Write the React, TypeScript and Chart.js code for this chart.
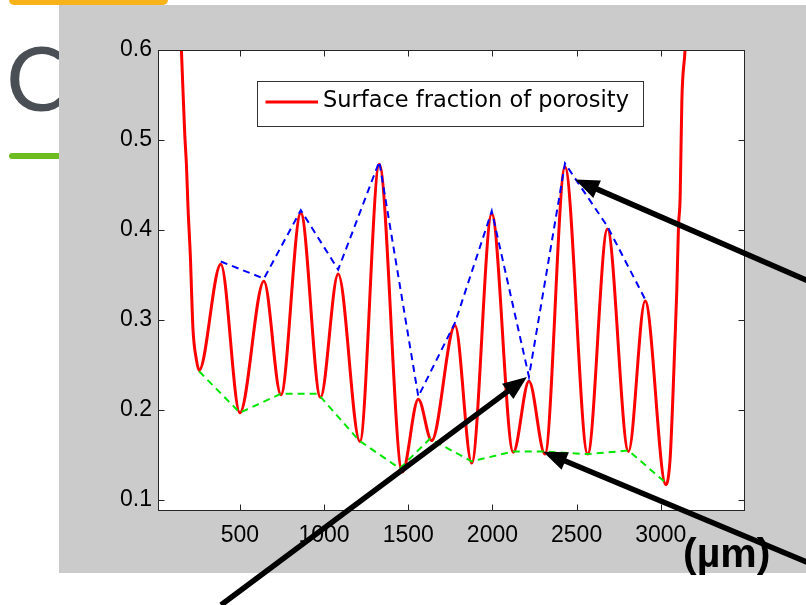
import React, { useEffect, useRef } from 'react';
import { Chart, registerables } from 'chart.js';

Chart.register(...registerables);

// ---- data ----
const curveX = [140, 153, 163, 173, 183, 192, 207, 213, 222, 242, 258, 387, 500, 643, 744, 862, 979, 1084, 1213, 1328, 1465, 1560, 1639, 1778, 1877, 1996, 2124, 2217, 2312, 2431, 2566, 2683, 2808, 2907, 3030, 3055, 3071, 3082, 3095, 3105, 3115, 3125, 3144, 3158];
const curveY = [0.66, 0.6, 0.552, 0.506, 0.472, 0.426, 0.367, 0.333, 0.289, 0.256, 0.244, 0.362, 0.197, 0.343, 0.217, 0.419, 0.214, 0.351, 0.165, 0.473, 0.131, 0.212, 0.166, 0.294, 0.141, 0.418, 0.153, 0.232, 0.151, 0.47, 0.151, 0.401, 0.154, 0.321, 0.117, 0.145, 0.211, 0.267, 0.333, 0.404, 0.437, 0.544, 0.6, 0.66];

const peakX = [387, 643, 862, 1084, 1328, 1560, 1778, 1996, 2217, 2431, 2683, 2907];
const peakY = [0.365, 0.346, 0.422, 0.356, 0.476, 0.215, 0.297, 0.421, 0.237, 0.474, 0.404, 0.323];

const troughX = [258, 500, 744, 964, 1209, 1450, 1628, 1877, 2124, 2302, 2566, 2808, 3030];
const troughY = [0.243, 0.197, 0.218, 0.218, 0.166, 0.135, 0.168, 0.143, 0.154, 0.154, 0.151, 0.155, 0.119];

const xTicks = [500, 1000, 1500, 2000, 2500, 3000];
const yTicks = [0.1, 0.2, 0.3, 0.4, 0.5, 0.6];

const arrowTipX = [2491, 2205, 2301];
const arrowTipY = [0.456, 0.2367, 0.1537];

const legendLabel = 'Surface fraction of porosity';
const unitLabel = '(µm)';
const slideLetter = 'C';

const toPoints = (xs: number[], ys: number[]) => xs.map((x, i) => ({ x, y: ys[i] }));

const backdropPlugin = {
  id: 'backdrop',
  beforeDraw(chart: any) {
    const { ctx, chartArea: a } = chart;
    ctx.save();
    ctx.fillStyle = '#ffffff';
    ctx.fillRect(0, 0, chart.width, chart.height);
    // slide decorations
    ctx.fillStyle = '#f8b31b';
    ctx.beginPath();
    ctx.roundRect(9, -6, 159, 11, 5);
    ctx.fill();
    ctx.fillStyle = '#6dbd22';
    ctx.beginPath();
    ctx.roundRect(9, 153, 80, 6, 3);
    ctx.fill();
    ctx.fillStyle = '#4a4f55';
    ctx.font = "400 90px Lato";
    ctx.textBaseline = 'alphabetic';
    ctx.textAlign = 'left';
    ctx.fillText(slideLetter, 6, 111);
    // grey panel
    ctx.fillStyle = '#cbcbcb';
    ctx.fillRect(59, 5, 747, 568);
    // axes background
    ctx.fillStyle = '#ffffff';
    ctx.fillRect(a.left, a.top, a.right - a.left, a.bottom - a.top);
    ctx.restore();
  },
};

const framePlugin = {
  id: 'frame',
  afterDatasetsDraw(chart: any) {
    const { ctx, chartArea: a, scales } = chart;
    ctx.save();
    ctx.strokeStyle = '#262626';
    ctx.lineWidth = 1;
    const L = Math.round(a.left) + 0.5, R = Math.round(a.right) - 0.5;
    const T = Math.round(a.top) + 0.5, B = Math.round(a.bottom) - 0.5;
    ctx.strokeRect(L, T, R - L, B - T);
    const len = 6;
    ctx.beginPath();
    xTicks.forEach((v) => {
      const px = Math.round(scales.x.getPixelForValue(v)) + 0.5;
      ctx.moveTo(px, B); ctx.lineTo(px, B - len);
      ctx.moveTo(px, T); ctx.lineTo(px, T + len);
    });
    yTicks.forEach((v) => {
      const py = Math.round(scales.y.getPixelForValue(v)) + 0.5;
      ctx.moveTo(L, py); ctx.lineTo(L + len, py);
      ctx.moveTo(R, py); ctx.lineTo(R - len, py);
    });
    ctx.stroke();

    // legend box
    const ds = chart.data.datasets[0];
    const bx = a.left + 98.5, by = a.top + 31, bw = 385.5, bh = 44.5;
    ctx.fillStyle = '#ffffff';
    ctx.fillRect(bx, by, bw, bh);
    ctx.strokeStyle = '#333333';
    ctx.strokeRect(Math.round(bx) + 0.5, Math.round(by) + 0.5, Math.round(bw), Math.round(bh));
    ctx.strokeStyle = ds.borderColor;
    ctx.lineWidth = 3;
    ctx.beginPath();
    ctx.moveTo(bx + 9, by + 21);
    ctx.lineTo(bx + 61.5, by + 21);
    ctx.stroke();
    ctx.fillStyle = '#000000';
    ctx.font = "22.5px 'DejaVu Sans'";
    ctx.textAlign = 'left';
    ctx.textBaseline = 'alphabetic';
    ctx.fillText(ds.label, bx + 66.5, by + 25.5);
    ctx.restore();
  },
};

const arrowsPlugin = {
  id: 'arrows',
  afterDraw(chart: any) {
    const { ctx, scales } = chart;
    ctx.save();
    ctx.fillStyle = '#000000';
    ctx.font = "bold 41px 'Liberation Sans'";
    ctx.textAlign = 'left';
    ctx.textBaseline = 'alphabetic';
    ctx.fillText(unitLabel, 683, 567);

    const tails = [[830, 290.5], [221, 605], [830, 571.7]];
    arrowTipX.forEach((tx, i) => {
      const px = scales.x.getPixelForValue(tx);
      const py = scales.y.getPixelForValue(arrowTipY[i]);
      const [sx, sy] = tails[i];
      const ang = Math.atan2(py - sy, px - sx);
      const head = 24, half = 9.5;
      const bxp = px - head * Math.cos(ang), byp = py - head * Math.sin(ang);
      ctx.strokeStyle = '#000000';
      ctx.lineWidth = 5.5;
      ctx.lineCap = 'butt';
      ctx.beginPath();
      ctx.moveTo(sx, sy);
      ctx.lineTo(bxp + 2 * Math.cos(ang), byp + 2 * Math.sin(ang));
      ctx.stroke();
      ctx.beginPath();
      ctx.moveTo(px, py);
      ctx.lineTo(bxp + half * Math.sin(ang), byp - half * Math.cos(ang));
      ctx.lineTo(bxp - half * Math.sin(ang), byp + half * Math.cos(ang));
      ctx.closePath();
      ctx.fill();
    });
    ctx.restore();
  },
};

export default function App() {
  const ref = useRef<HTMLCanvasElement>(null);
  useEffect(() => {
    if (!ref.current) return;
    const tickFont = { family: "'Liberation Sans', Arial, sans-serif", size: 23 };
    const chart = new Chart(ref.current, {
      type: 'line',
      data: {
        datasets: [
          {
            label: legendLabel,
            data: toPoints(curveX, curveY),
            borderColor: '#ff0000',
            borderWidth: 3,
            pointRadius: 0,
            cubicInterpolationMode: 'monotone',
            fill: false,
            clip: 0,
            order: 3,
          },
          {
            label: 'peaks',
            data: toPoints(peakX, peakY),
            borderColor: '#0000ff',
            borderWidth: 2,
            borderDash: [7, 5],
            pointRadius: 0,
            tension: 0,
            fill: false,
            clip: 0,
            order: 1,
          },
          {
            label: 'troughs',
            data: toPoints(troughX, troughY),
            borderColor: '#00e600',
            borderWidth: 2,
            borderDash: [7, 5],
            pointRadius: 0,
            tension: 0,
            fill: false,
            clip: 0,
            order: 1,
          },
        ],
      },
      options: {
        animation: false,
        responsive: false,
        devicePixelRatio: 1,
        layout: { padding: { top: 50, right: 61, left: 0, bottom: 0 } },
        plugins: { legend: { display: false }, tooltip: { enabled: false } },
        scales: {
          x: {
            type: 'linear',
            min: 14,
            max: 3500,
            afterBuildTicks: (s: any) => { s.ticks = xTicks.map((v) => ({ value: v })); },
            afterFit: (s: any) => { s.height = 94; },
            grid: { display: false, drawTicks: false },
            border: { display: false },
            ticks: {
              font: tickFont,
              color: '#000000',
              padding: 11,
              maxRotation: 0,
              autoSkip: false,
              callback: (v: any) => String(v),
            },
          },
          y: {
            type: 'linear',
            min: 0.0878,
            max: 0.6,
            afterBuildTicks: (s: any) => { s.ticks = yTicks.map((v) => ({ value: v })); },
            afterFit: (s: any) => { s.width = 158; },
            grid: { display: false, drawTicks: false },
            border: { display: false },
            ticks: {
              font: tickFont,
              color: '#000000',
              padding: 6,
              autoSkip: false,
              callback: (v: any) => Number(v).toFixed(1),
            },
          },
        },
      },
      plugins: [backdropPlugin, framePlugin, arrowsPlugin],
    } as any);
    return () => chart.destroy();
  }, []);
  return (
    <div style={{ position: 'fixed', left: 0, top: 0, width: 806, height: 605, background: '#fff' }}>
      <canvas ref={ref} width={806} height={605} style={{ display: 'block', width: 806, height: 605 }} />
    </div>
  );
}
